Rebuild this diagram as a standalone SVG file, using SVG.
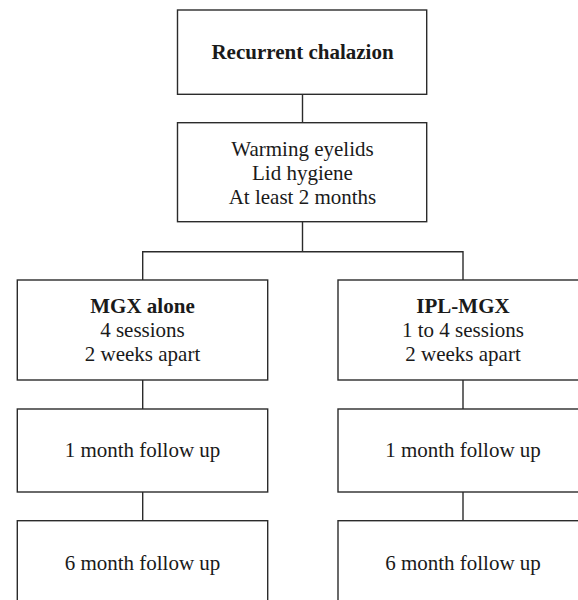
<svg xmlns="http://www.w3.org/2000/svg" width="578" height="600" viewBox="0 0 578 600">
<style>
.box{fill:#fff;stroke:#2b2b2b;stroke-width:1.4}
.ln{fill:none;stroke:#2b2b2b;stroke-width:1.4}
text{font-family:"Liberation Serif","DejaVu Serif",serif;font-size:21px;fill:#1a1a1a;text-anchor:middle}
.b{font-weight:bold}
</style>
<rect width="578" height="600" fill="#fff"/>
<g id="connectors">
<line class="ln" x1="302.5" y1="94.3" x2="302.5" y2="122.7"/>
<polyline class="ln" points="302.5,221.7 302.5,251.7"/>
<polyline class="ln" points="142.7,280 142.7,251.7 463,251.7 463,280"/>
<line class="ln" x1="142.7" y1="380" x2="142.7" y2="409"/>
<line class="ln" x1="142.7" y1="492" x2="142.7" y2="520.7"/>
<line class="ln" x1="463" y1="380" x2="463" y2="409"/>
<line class="ln" x1="463" y1="492" x2="463" y2="520.7"/>
</g>
<g id="recurrent">
<rect class="box" x="177.5" y="10" width="249.2" height="84.3"/>
<text class="b" x="302.5" y="59.3">Recurrent chalazion</text>
</g>
<g id="warming">
<rect class="box" x="177.5" y="122.7" width="249.2" height="99"/>
<text x="302.5" y="156">Warming eyelids</text>
<text x="302.5" y="180">Lid hygiene</text>
<text x="302.5" y="203.5">At least 2 months</text>
</g>
<g id="mgx">
<rect class="box" x="17.3" y="280" width="250.4" height="100"/>
<text class="b" x="142.5" y="312.7">MGX alone</text>
<text x="142.5" y="336.7">4 sessions</text>
<text x="142.5" y="360.7">2 weeks apart</text>
</g>
<g id="ipl">
<rect class="box" x="338" y="280" width="250" height="100"/>
<text class="b" x="463" y="312.7">IPL-MGX</text>
<text x="463" y="336.7">1 to 4 sessions</text>
<text x="463" y="360.7">2 weeks apart</text>
</g>
<g id="mgx1m">
<rect class="box" x="17.3" y="409" width="250.4" height="83"/>
<text x="142.5" y="456.7">1 month follow up</text>
</g>
<g id="ipl1m">
<rect class="box" x="338" y="409" width="250" height="83"/>
<text x="463" y="456.7">1 month follow up</text>
</g>
<g id="mgx6m">
<rect class="box" x="17.3" y="520.7" width="250.4" height="90"/>
<text x="142.5" y="570">6 month follow up</text>
</g>
<g id="ipl6m">
<rect class="box" x="338" y="520.7" width="250" height="90"/>
<text x="463" y="570">6 month follow up</text>
</g>
</svg>
